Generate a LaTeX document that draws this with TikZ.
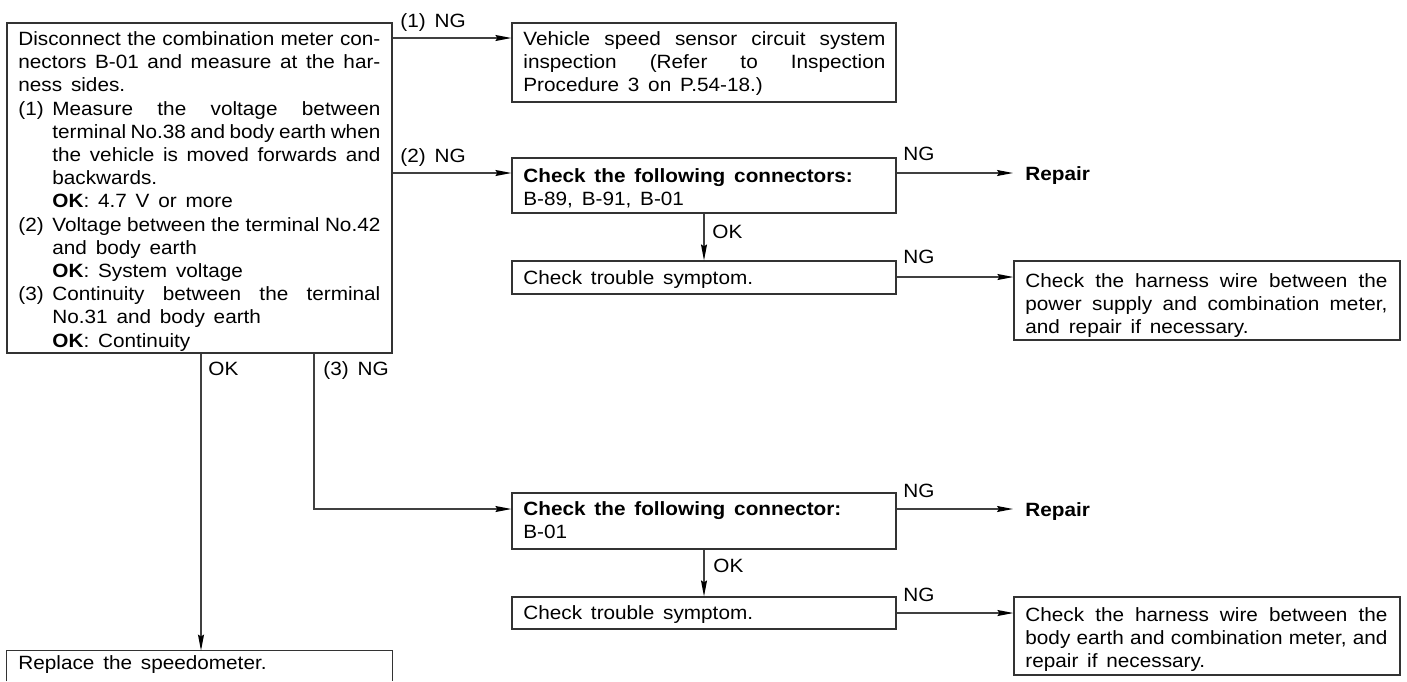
\documentclass[tikz,border=0pt]{standalone}
\usepackage{fontspec}
\setmainfont{Liberation Sans}[FakeStretch=1.08]
\usetikzlibrary{arrows.meta,fit}
\ExplSyntaxOn
\tl_new:N \l_my_tl
\cs_new_protected:Npn \myspaced #1 #2
  {
    \tl_set:Nn \l_my_tl {#2}
    \tl_replace_all:Nnn \l_my_tl { ~ } { \hskip #1 \relax }
    \l_my_tl
  }
\cs_new_protected:Npn \myjust #1 #2
  {
    \tl_set:Nn \l_my_tl {#2}
    \tl_replace_all:Nnn \l_my_tl { ~ } { \hskip 0.3em plus 1fil minus 0.15em \relax }
    \leavevmode \hbox_to_wd:nn {#1} { \l_my_tl }
  }
\ExplSyntaxOff
\newcommand\jline[1]{\myjust{181pt}{#1}}
\newcommand\nline[1]{\leavevmode\myspaced{0.46em}{#1}}
\newcommand\iline[1]{\leavevmode\hspace*{17pt}\myspaced{0.46em}{#1}}
\newcommand\ijline[1]{\leavevmode\hspace*{17pt}\myjust{164pt}{#1}}
\newcommand\numline[2]{\leavevmode\hbox to 17pt{#1\hss}\myjust{164pt}{#2}}
\newcommand\fs{\rule{0pt}{8pt}}
\newcommand\myfont{\fontsize{9.6pt}{11.6pt}\selectfont}
\tikzset{
  boxs/.style={draw=black!80, line width=0.6pt, inner sep=0pt},
  txt/.style={anchor=north west, inner sep=0pt, text width=181pt, font=\myfont},
  lbl/.style={anchor=base west, inner sep=0pt, font=\myfont},
  conn/.style={draw=black!75, line width=0.6pt},
  arr/.style={conn, -{Stealth[length=8pt,width=3pt,inset=1pt,color=black]}}
}
\begin{document}
\begin{tikzpicture}[x=0.5pt,y=-0.5pt]
\useasboundingbox (0,0) rectangle (1407,681);
% boxes
\node[boxs, fit={(7,23)(392,353)}] (main) {};
\node[boxs, fit={(512,23)(896,102)}] (b1) {};
\node[boxs, fit={(512,158)(896,213)}] (b2) {};
\node[boxs, fit={(512,261)(896,294)}] (b3) {};
\node[boxs, fit={(1014,261)(1400,340)}] (h1) {};
\node[boxs, fit={(512,493)(896,549)}] (b4) {};
\node[boxs, fit={(512,597)(896,629)}] (b5) {};
\node[boxs, fit={(1014,597)(1400,675)}] (h2) {};
\node[inner sep=0pt, fit={(7,651)(392,681)}] (rp) {};
\draw[conn, draw=black!80] (rp.south west) -- (rp.north west) -- (rp.north east) -- (rp.south east);
% texts
\node[txt] (tmain) at (18,29) {\fs\jline{Disconnect the combination meter con-}\\
\jline{nectors B-01 and measure at the har-}\\
\nline{ness sides.}\\
\numline{(1)}{Measure the voltage between}\\
\ijline{terminal No.38 and body earth when}\\
\ijline{the vehicle is moved forwards and}\\
\iline{backwards.}\\
\iline{\textbf{OK}: 4.7 V or more}\\
\numline{(2)}{Voltage between the terminal No.42}\\
\iline{and body earth}\\
\iline{\textbf{OK}: System voltage}\\
\numline{(3)}{Continuity between the terminal}\\
\iline{No.31 and body earth}\\
\iline{\textbf{OK}: Continuity}};
\node[txt] (tb1) at (523,29) {\fs\jline{Vehicle speed sensor circuit system}\\
\jline{inspection (Refer to Inspection}\\
\nline{Procedure 3 on P.54-18.)}};
\node[txt] (tb2) at (523,166) {\fs\textbf{\nline{Check the following connectors:}}\\
\nline{B-89, B-91, B-01}};
\node[txt] (tb3) at (523,268) {\fs\nline{Check trouble symptom.}};
\node[txt] (th1) at (1025,271) {\fs\jline{Check the harness wire between the}\\
\jline{power supply and combination meter,}\\
\nline{and repair if necessary.}};
\node[txt] (tb4) at (523,499) {\fs\textbf{\nline{Check the following connector:}}\\
\nline{B-01}};
\node[txt] (tb5) at (523,603) {\fs\nline{Check trouble symptom.}};
\node[txt] (th2) at (1025,605) {\fs\jline{Check the harness wire between the}\\
\jline{body earth and combination meter, and}\\
\nline{repair if necessary.}};
\node[txt] (trp) at (18,653) {\fs\nline{Replace the speedometer.}};
% end texts
\node[lbl, font=\myfont\bfseries] (rep1) at (1025,180) {Repair};
\node[lbl, font=\myfont\bfseries] (rep2) at (1025,516) {Repair};
% labels
\node[lbl] (l1) at (400,27) {\nline{(1) NG}};
\node[lbl] (l2) at (400,162) {\nline{(2) NG}};
\node[lbl] (l3) at (903,160) {NG};
\node[lbl] (l4) at (712,238) {OK};
\node[lbl] (l5) at (903,263) {NG};
\node[lbl] (l6) at (208,375) {OK};
\node[lbl] (l7) at (323,375) {\nline{(3) NG}};
\node[lbl] (l8) at (903,497) {NG};
\node[lbl] (l9) at (713,572) {OK};
\node[lbl] (l10) at (903,601) {NG};
% helper coordinates
\coordinate (y1) at (0,38);
\coordinate (y2) at (0,173);
\coordinate (y3) at (0,277);
\coordinate (y4) at (0,509);
\coordinate (y5) at (0,613);
\coordinate (xok) at (201,0);
\coordinate (xng) at (314,0);
\coordinate (xc) at (704,0);
% connectors
\draw[arr] (main.east |- y1) -- (b1.west |- y1);
\draw[arr] (main.east |- y2) -- (b2.west |- y2);
\draw[arr, shorten >=6pt] (b2.east |- y2) -- (rep1.west |- y2);
\draw[arr] (b2.south -| xc) -- (b3.north -| xc);
\draw[arr] (b3.east |- y3) -- (h1.west |- y3);
\draw[arr] (main.south -| xok) -- (rp.north -| xok);
\draw[arr] (main.south -| xng) |- (b4.west |- y4);
\draw[arr, shorten >=6pt] (b4.east |- y4) -- (rep2.west |- y4);
\draw[arr] (b4.south -| xc) -- (b5.north -| xc);
\draw[arr] (b5.east |- y5) -- (h2.west |- y5);
\end{tikzpicture}
\end{document}
